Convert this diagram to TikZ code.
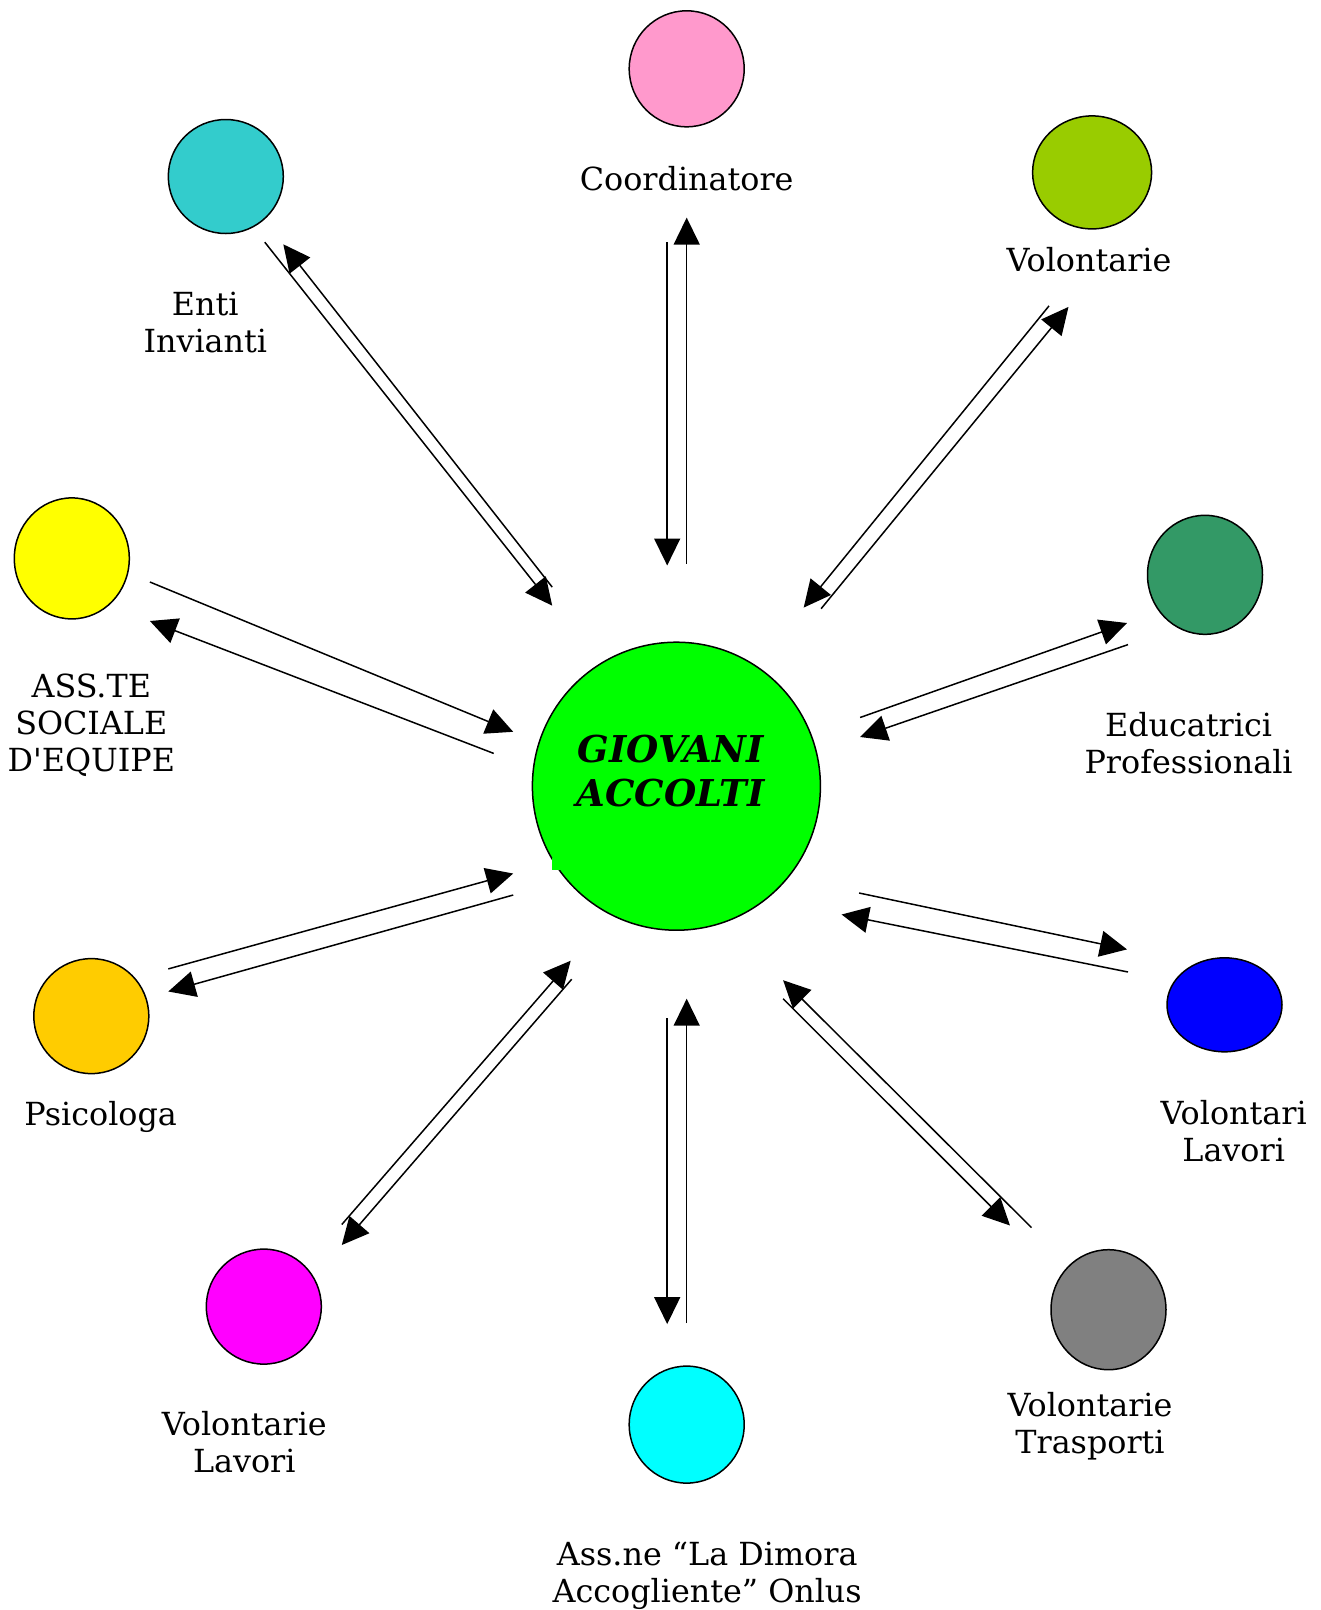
\documentclass[tikz,border=0pt]{standalone}
\usepackage{fontspec}
\setmainfont{DejaVu Serif}
\usetikzlibrary{shapes.geometric,arrows.meta}
\definecolor{cpink}{HTML}{FF99CC}
\definecolor{colive}{HTML}{99CC00}
\definecolor{cdgreen}{HTML}{339966}
\definecolor{cblue}{HTML}{0000FF}
\definecolor{cgray}{HTML}{808080}
\definecolor{ccyan}{HTML}{00FFFF}
\definecolor{cmag}{HTML}{FF00FF}
\definecolor{corange}{HTML}{FFCC00}
\definecolor{cyellow}{HTML}{FFFF00}
\definecolor{cteal}{HTML}{33CCCC}
\definecolor{cgreen}{HTML}{00FF00}
\tikzset{
  blob/.style={ellipse, draw=black, line width=1.5pt, inner sep=0pt},
  lbl/.style={align=center, inner sep=0pt, font=\fontsize{31.8}{37}\selectfont},
  conn/.style={line width=1.5pt, -{Triangle[length=27pt,width=26pt]}},
}
\begin{document}
\begin{tikzpicture}[x=1pt,y=-1pt]
\useasboundingbox (0,0) rectangle (1321,1610);

% centre
\node[blob, fill=cgreen, minimum width=288pt, minimum height=288pt] (giovani) at (676.4,786.2) {};
\fill[cgreen] (552,858) rectangle (562,870);
\node[align=center, inner sep=0pt, font=\fontsize{37}{44}\selectfont\bfseries\itshape] (giovanitxt) at (670.6,771.3) {GIOVANI\\ACCOLTI};

% outer nodes
\node[blob, fill=cpink, minimum width=115pt, minimum height=116pt] (coord) at (686.7,68.8) {};
\node[lbl] (coordt) at (686.7,178.6) {Coordinatore};

\node[blob, fill=colive, minimum width=119pt, minimum height=113pt] (volf) at (1092.1,172.4) {};
\node[lbl] (volft) at (1089,259.7) {Volontarie};

\node[blob, fill=cdgreen, minimum width=115pt, minimum height=119pt] (edu) at (1205.0,574.8) {};
\node[lbl] (edut) at (1188.6,743.6) {Educatrici\\Professionali};

\node[blob, fill=cblue, minimum width=115pt, minimum height=94pt] (voll) at (1224.5,1004.8) {};
\node[lbl] (vollt) at (1233.7,1131.6) {Volontari\\Lavori};

\node[blob, fill=cgray, minimum width=115pt, minimum height=120pt] (trasp) at (1108.5,1309.7) {};
\node[lbl] (traspt) at (1090.0,1425.8) {Volontarie\\Trasporti};

\node[blob, fill=ccyan, minimum width=115pt, minimum height=117pt] (assne) at (686.7,1424.6) {};
\node[lbl] (assnet) at (707.2,1575.4) {Ass.ne “La Dimora\\Accogliente” Onlus};

\node[blob, fill=cmag, minimum width=115pt, minimum height=115pt] (volfl) at (263.8,1306.6) {};
\node[lbl] (volflt) at (244.3,1442.6) {Volontarie\\Lavori};

\node[blob, fill=corange, minimum width=115pt, minimum height=115pt] (psi) at (91.3,1016.1) {};
\node[lbl] (psit) at (100.6,1116.8) {Psicologa};

\node[blob, fill=cyellow, minimum width=115pt, minimum height=121pt] (ass) at (71.8,558.4) {};
\node[lbl] (asst) at (91.3,724.8) {ASS.TE\\SOCIALE\\D\textquotesingle EQUIPE};

\node[blob, fill=cteal, minimum width=115pt, minimum height=114pt] (enti) at (225.8,176.5) {};
\node[lbl] (entit) at (205.3,322.8) {Enti\\Invianti};

% connector end points
\coordinate (c1a) at (667.2,242.2);  \coordinate (c1b) at (667.2,565.5);
\coordinate (c1c) at (686.7,563.5);  \coordinate (c1d) at (686.7,217.6);

\coordinate (c2a) at (1049.0,305.9); \coordinate (c2b) at (803.7,607.6);
\coordinate (c2c) at (821.1,608.7);  \coordinate (c2d) at (1068.5,306.9);

\coordinate (c3a) at (860.1,717.5);  \coordinate (c3b) at (1127.0,623.0);
\coordinate (c3c) at (1128.0,644.6); \coordinate (c3d) at (860.1,737.0);

\coordinate (c4a) at (859.1,893.0);  \coordinate (c4b) at (1127.0,949.4);
\coordinate (c4c) at (1128.0,972.0); \coordinate (c4d) at (841.6,914.5);

\coordinate (c5a) at (783.1,998.7);  \coordinate (c5b) at (1010.0,1225.5);
\coordinate (c5c) at (1031.5,1227.6);\coordinate (c5d) at (783.1,980.2);

\coordinate (c6a) at (667.2,1018.2); \coordinate (c6b) at (667.2,1324.1);
\coordinate (c6c) at (686.7,1323.0); \coordinate (c6d) at (686.7,998.7);

\coordinate (c7a) at (341.8,1224.5); \coordinate (c7b) at (570.7,960.7);
\coordinate (c7c) at (571.7,979.2);  \coordinate (c7d) at (341.8,1245.0);

\coordinate (c8a) at (168.3,968.9);  \coordinate (c8b) at (513.2,873.5);
\coordinate (c8c) at (513.2,895.0);  \coordinate (c8d) at (168.3,991.5);

\coordinate (c9a) at (149.9,582.0);  \coordinate (c9b) at (513.2,731.8);
\coordinate (c9c) at (493.7,753.4);  \coordinate (c9d) at (149.9,621.0);

\coordinate (c10a) at (264.8,242.2); \coordinate (c10b) at (552.2,605.6);
\coordinate (c10c) at (552.2,587.1); \coordinate (c10d) at (283.3,244.3);

\foreach \i in {1,...,10}{
  \draw[conn] (c\i a) -- (c\i b);
  \draw[conn] (c\i c) -- (c\i d);
}
\end{tikzpicture}
\end{document}
